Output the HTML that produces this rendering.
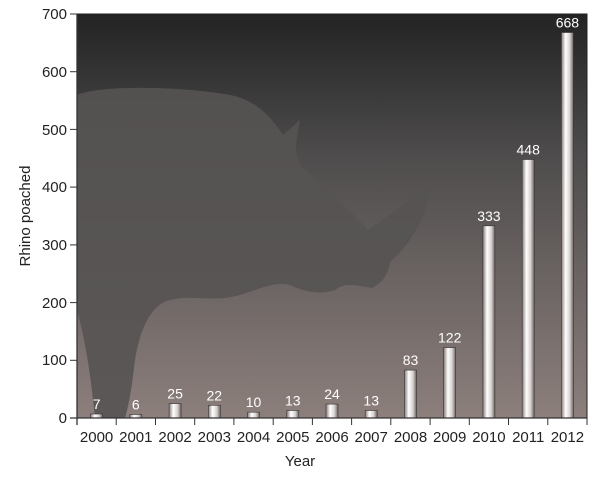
<!DOCTYPE html>
<html><head><style>body{margin:0;background:#fff;font-family:"Liberation Sans",sans-serif}</style></head><body>
<svg width="600" height="474" xmlns="http://www.w3.org/2000/svg" font-family="Liberation Sans, sans-serif">
<defs>
<linearGradient id="bg" x1="0" y1="0" x2="0" y2="1">
<stop offset="0" stop-color="#232323"/><stop offset="0.35" stop-color="#4e4c4c"/><stop offset="1" stop-color="#8c7f7c"/></linearGradient>
<linearGradient id="bar" x1="0" y1="0" x2="1" y2="0">
<stop offset="0" stop-color="#8a7e7c"/><stop offset="0.35" stop-color="#ffffff"/><stop offset="0.7" stop-color="#d8d2d0"/><stop offset="1" stop-color="#6e6462"/></linearGradient>
</defs>
<rect x="77" y="14" width="510" height="404" fill="url(#bg)"/>
<path d="M77,95 C100,85 180,86 230,95 C255,100 270,115 283,135 L300,120 C297,140 293,150 300,165 C320,185 350,210 368,230 C390,215 415,195 430,188 C428,215 410,245 390,262 C388,275 383,282 372,288 C355,285 345,282 335,290 C320,295 305,292 290,285 C270,280 250,295 225,298 C205,300 190,295 170,300 C150,305 140,330 135,360 C132,385 130,400 125,418 L95,418 C92,390 88,350 77,310 Z" fill="#575353" opacity="0.9"/>
<rect x="77" y="14" width="510" height="404" fill="none" stroke="#222" stroke-width="1"/>
<g stroke="#333" stroke-width="0.6" fill="url(#bar)">
<rect x="90.6" y="414" width="12" height="4"/>
<rect x="129.8" y="414.5" width="12" height="3.5"/>
<rect x="169.1" y="403.6" width="12" height="14.4"/>
<rect x="208.3" y="405.3" width="12" height="12.7"/>
<rect x="247.5" y="412.2" width="12" height="5.8"/>
<rect x="286.8" y="410.5" width="12" height="7.5"/>
<rect x="326" y="404.1" width="12" height="13.9"/>
<rect x="365.2" y="410.5" width="12" height="7.5"/>
<rect x="404.5" y="370.1" width="12" height="47.9"/>
<rect x="443.7" y="347.6" width="12" height="70.4"/>
<rect x="482.9" y="225.8" width="12" height="192.2"/>
<rect x="522.2" y="159.5" width="12" height="258.5"/>
<rect x="561.4" y="32.5" width="12" height="385.5"/>
</g>
<g font-size="14" fill="#fff" text-anchor="middle">
<text x="96.6" y="409">7</text><text x="135.8" y="409.5">6</text><text x="175.1" y="398.6">25</text><text x="214.3" y="400.3">22</text><text x="253.5" y="407.2">10</text><text x="292.8" y="405.5">13</text><text x="332" y="399.1">24</text><text x="371.2" y="405.5">13</text><text x="410.5" y="365.1">83</text><text x="449.7" y="342.6">122</text><text x="488.9" y="220.8">333</text><text x="528.2" y="154.5">448</text><text x="567.4" y="27.5">668</text>
</g>
<g stroke="#333" stroke-width="1.3">
<line x1="70" y1="418" x2="587" y2="418"/>
<line x1="77" y1="14" x2="77" y2="425"/>
</g>
<g stroke="#333" stroke-width="1">
<line x1="70" y1="360.3" x2="77" y2="360.3"/><line x1="70" y1="302.6" x2="77" y2="302.6"/><line x1="70" y1="244.9" x2="77" y2="244.9"/><line x1="70" y1="187.1" x2="77" y2="187.1"/><line x1="70" y1="129.4" x2="77" y2="129.4"/><line x1="70" y1="71.7" x2="77" y2="71.7"/><line x1="70" y1="14" x2="77" y2="14"/>
<line x1="116.2" y1="418" x2="116.2" y2="425"/><line x1="155.5" y1="418" x2="155.5" y2="425"/><line x1="194.7" y1="418" x2="194.7" y2="425"/><line x1="233.9" y1="418" x2="233.9" y2="425"/><line x1="273.2" y1="418" x2="273.2" y2="425"/><line x1="312.4" y1="418" x2="312.4" y2="425"/><line x1="351.6" y1="418" x2="351.6" y2="425"/><line x1="390.8" y1="418" x2="390.8" y2="425"/><line x1="430.1" y1="418" x2="430.1" y2="425"/><line x1="469.3" y1="418" x2="469.3" y2="425"/><line x1="508.5" y1="418" x2="508.5" y2="425"/><line x1="547.8" y1="418" x2="547.8" y2="425"/><line x1="587" y1="418" x2="587" y2="425"/>
</g>
<g font-size="15" fill="#222" text-anchor="end">
<text x="67" y="423">0</text><text x="67" y="365">100</text><text x="67" y="308">200</text><text x="67" y="250">300</text><text x="67" y="192">400</text><text x="67" y="135">500</text><text x="67" y="77">600</text><text x="67" y="19">700</text>
</g>
<g font-size="15" fill="#222" text-anchor="middle">
<text x="96.6" y="442">2000</text><text x="135.8" y="442">2001</text><text x="175.1" y="442">2002</text><text x="214.3" y="442">2003</text><text x="253.5" y="442">2004</text><text x="292.8" y="442">2005</text><text x="332" y="442">2006</text><text x="371.2" y="442">2007</text><text x="410.5" y="442">2008</text><text x="449.7" y="442">2009</text><text x="488.9" y="442">2010</text><text x="528.2" y="442">2011</text><text x="567.4" y="442">2012</text>
</g>
<text x="300" y="466" font-size="15" text-anchor="middle" fill="#222">Year</text>
<text transform="translate(30,216) rotate(-90)" font-size="15" text-anchor="middle" fill="#222">Rhino poached</text>
</svg>
</body></html>
